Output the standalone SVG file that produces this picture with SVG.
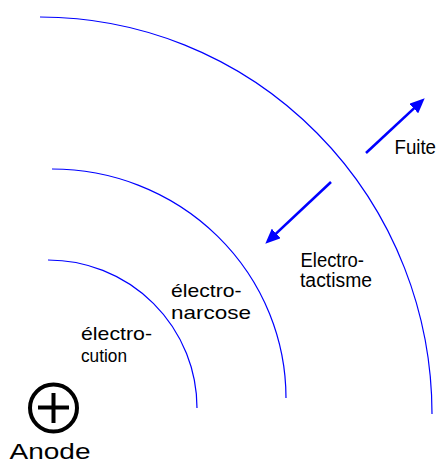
<svg xmlns="http://www.w3.org/2000/svg" width="439" height="464" viewBox="0 0 439 464">
  <style>
    .arc { fill: none; stroke: #0000ff; stroke-width: 1.2; }
    .arrow { fill: none; stroke: #0000ff; stroke-width: 2.6; }
    .lbl { font-family: "Liberation Sans", Arial, sans-serif; font-size: 20px; fill: #000; }
    .sm { font-size: 19px; }
    .sym { fill: none; stroke: #000; stroke-width: 4; }
  </style>
  <defs>
    <marker id="head" markerUnits="userSpaceOnUse" markerWidth="15" markerHeight="13" refX="8" refY="6.5" orient="auto">
      <path d="M0,0 L15,6.5 L0,13 z" fill="#0000ff"/>
    </marker>
  </defs>
  <rect width="439" height="464" fill="#fff"/>
  <g id="zones">
    <path id="zone-electrocution" class="arc" d="M48,260 A149,148 0 0 1 197,408"/>
    <path id="zone-electronarcose" class="arc" d="M52,169 A234,229 0 0 1 286,398"/>
    <path id="zone-electrotactisme" class="arc" d="M40,17 A392,397 0 0 1 432,414"/>
  </g>
  <g id="connectors">
    <line class="arrow" x1="366" y1="153" x2="419.6" y2="103.1" marker-end="url(#head)"/>
    <line class="arrow" x1="331" y1="182" x2="270.4" y2="238.9" marker-end="url(#head)"/>
  </g>
  <g id="anode">
    <circle class="sym" cx="53.5" cy="408" r="23.5"/>
    <line class="sym" x1="38" y1="407.5" x2="69" y2="407.5"/>
    <line class="sym" x1="53.5" y1="393" x2="53.5" y2="423"/>
    <text class="lbl" x="9.5" y="459" style="font-size:22px" textLength="81" lengthAdjust="spacingAndGlyphs">Anode</text>
  </g>
  <g id="label-fuite">
    <text class="lbl" x="394.5" y="154" textLength="41.5" lengthAdjust="spacingAndGlyphs">Fuite</text>
  </g>
  <g id="label-electrotactisme">
    <text class="lbl"><tspan x="300.5" y="266.5" textLength="63.5" lengthAdjust="spacingAndGlyphs">Electro-</tspan><tspan x="300" y="287" textLength="72" lengthAdjust="spacingAndGlyphs">tactisme</tspan></text>
  </g>
  <g id="label-electronarcose">
    <text class="lbl sm"><tspan x="171" y="297" textLength="70.5" lengthAdjust="spacingAndGlyphs">électro-</tspan><tspan x="171" y="318.5" textLength="80" lengthAdjust="spacingAndGlyphs">narcose</tspan></text>
  </g>
  <g id="label-electrocution">
    <text class="lbl sm"><tspan x="81" y="340" textLength="71" lengthAdjust="spacingAndGlyphs">électro-</tspan><tspan x="81" y="361.5" textLength="46" lengthAdjust="spacingAndGlyphs">cution</tspan></text>
  </g>
</svg>
